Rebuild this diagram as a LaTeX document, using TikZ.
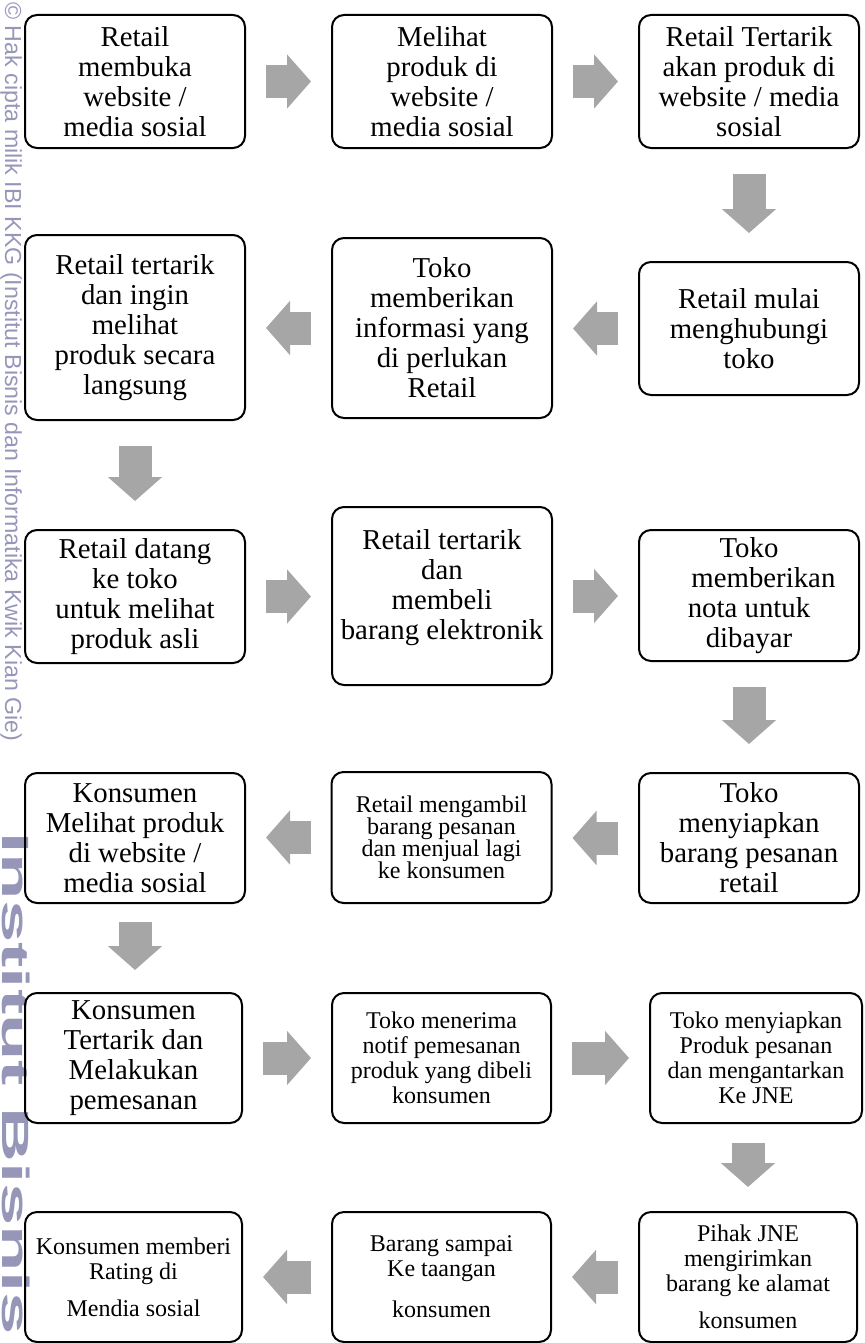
\documentclass[tikz,border=0pt]{standalone}
\usepackage{fontspec}
\setmainfont{Liberation Serif}
\newfontfamily\wmfont{Liberation Sans}
\usetikzlibrary{arrows.meta}
\definecolor{flowgray}{RGB}{166,166,166}
\definecolor{wmblue}{RGB}{150,150,185}
\begin{document}
\begin{tikzpicture}[x=0.5pt, y=-0.5pt,
  box/.style={draw, rounded corners=6pt, line width=1pt, minimum width=110pt, inner sep=0pt, align=center, font=\fontsize{14.4}{15}\selectfont},
  small/.style={font=\fontsize{12}{12.5}\selectfont},
  flow/.style={draw=flowgray, line width=16.5pt, -{Triangle[width=26.5pt, length=12pt]}, shorten <=10pt, shorten >=10pt},
  flowdown/.style={flow, shorten <=12.5pt, shorten >=14pt},
  wm/.style={text=wmblue, font=\wmfont\fontsize{11.6}{11.6}\selectfont, inner sep=0pt}]
\useasboundingbox (0,0) rectangle (864,1343);
\node[wm, rotate=-90, anchor=base west] (wm0) at (5,2) {© Hak cipta milik IBI KKG (Institut Bisnis dan Informatika Kwik Kian Gie)};
\node[wm, font=\wmfont\bfseries\fontsize{19}{19}\selectfont, rotate=-90, xscale=2, anchor=base west] (wm1) at (3,832) {Institut Bisnis};
% row 1
\node[box, minimum height=66.5pt] (s0) at (135,81.5) {Retail\\membuka\\website /\\media sosial};
\node[box, minimum height=66.5pt] (s1) at (442,81.5) {Melihat\\produk di\\website /\\media sosial};
\node[box, minimum height=66.5pt] (s2) at (749,81.5) {Retail Tertarik\\akan produk di\\website / media\\sosial};
\draw[flow] (s0.east) -- (s0.east -| s1.west);
\draw[flow] (s1.east) -- (s1.east -| s2.west);
% row 2
\node[box, minimum height=66.5pt] (s3) at (749,328.5) {Retail mulai\\menghubungi\\toko};
\node[box, minimum height=90pt] (s4) at (442,328) {Toko\\memberikan\\informasi yang\\di perlukan\\Retail};
\node[box, minimum height=92.5pt] (s5) at (135,327.5) {Retail tertarik\\dan ingin\\melihat\\produk secara\\langsung};
\draw[flowdown] (s2.south) -- (s3.north);
\draw[flow] (s3.west) -- (s3.west -| s4.east);
\draw[flow] (s4.west) -- (s4.west -| s5.east);
% row 3
\node[box, minimum height=66.5pt] (s6) at (135,596.5) {Retail datang\\ke toko\hspace{1.5em}\\untuk melihat\\produk asli};
\node[box, minimum height=89pt] (s7) at (442,596) {Retail tertarik\\dan\\membeli\hspace{2.5em}\\barang elektronik\\[-4pt]\mbox{}};
\node[box, minimum height=65.5pt] (s8) at (749,595.5) {Toko\\\hspace{1em}memberikan\\nota untuk\\dibayar};
\draw[flowdown] (s5.south) -- (s6.north);
\draw[flow] (s6.east) -- (s6.east -| s7.west);
\draw[flow] (s7.east) -- (s7.east -| s8.west);
% row 4
\node[box, minimum height=65pt] (s9) at (749,838) {Toko\\menyiapkan\\barang pesanan\\retail};
\node[box, font=\fontsize{12}{11}\selectfont, minimum height=65.5pt] (s10) at (441.5,837.5) {Retail mengambil\\barang pesanan\\dan menjual lagi\\ke konsumen};
\node[box, minimum height=65pt] (s11) at (135,838) {Konsumen\\Melihat produk\\di website /\\media sosial};
\draw[flowdown] (s8.south) -- (s9.north);
\draw[flow] (s9.west) -- (s9.west -| s10.east);
\draw[flow] (s10.west) -- (s10.west -| s11.east);
% row 5
\node[box, minimum width=108.5pt, minimum height=65pt] (s12) at (133.5,1058) {Konsumen\\Tertarik dan\\Melakukan\\pemesanan};
\node[box, small, minimum width=109.5pt, minimum height=65pt] (s13) at (441.5,1058) {Toko menerima\\notif pemesanan\\produk yang dibeli\\konsumen};
\node[box, small, minimum width=106pt, minimum height=65pt] (s14) at (756,1058) {Toko menyiapkan\\Produk pesanan\\dan mengantarkan\\Ke JNE};
\draw[flowdown, shorten <=9pt, shorten >=11pt] (s11.south) -- (s12.north -| s11.south);
\draw[flow] (s12.east) -- (s12.east -| s13.west);
\draw[flow] (s13.east) -- (s13.east -| s14.west);
% row 6
\node[box, small, minimum width=109pt, minimum height=65pt] (s15) at (748,1277) {Pihak JNE\\mengirimkan\\barang ke alamat\\[6pt]konsumen};
\node[box, small, minimum width=109.5pt, minimum height=65pt] (s16) at (441.5,1277) {Barang sampai\\Ke taangan\\[8pt]konsumen};
\node[box, small, minimum width=108.5pt, minimum height=65pt] (s17) at (133.5,1277) {Konsumen memberi\\Rating di\\[6pt]Mendia sosial};
\draw[flowdown, shorten <=9.5pt, shorten >=12pt] (s14.south -| s15.north) -- (s15.north);
\draw[flow] (s15.west) -- (s15.west -| s16.east);
\draw[flow] (s16.west) -- (s16.west -| s17.east);
\end{tikzpicture}
\end{document}
